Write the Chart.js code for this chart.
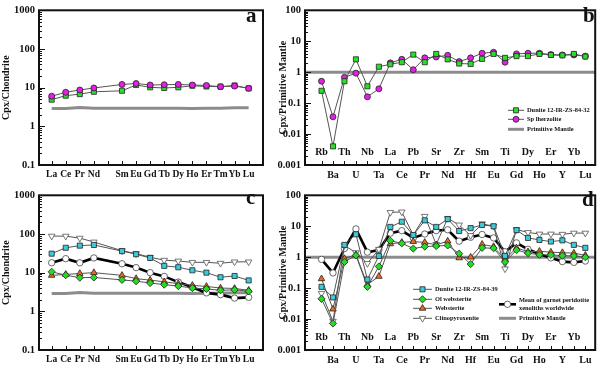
<!DOCTYPE html>
<html>
<head>
<meta charset="utf-8">
<script src="https://cdn.jsdelivr.net/npm/chart.js@4.4.0/dist/chart.umd.min.js"></script>
<style>
  html, body { margin: 0; padding: 0; background: #fff; }
  #fig { position: relative; width: 600px; height: 384px; overflow: hidden; }
  #fig canvas { position: absolute; }
  .letter { position: absolute; font-family: 'Liberation Serif', 'Times New Roman', serif; font-weight: bold; font-size: 21px; line-height: 21px; color: #111; }
</style>
</head>
<body>
<div id="fig">
  <canvas id="chartA" width="270" height="190" style="left:0;top:0;width:270px;height:190px"></canvas>
  <canvas id="chartB" width="328" height="190" style="left:272px;top:0;width:328px;height:190px"></canvas>
  <canvas id="chartC" width="270" height="190" style="left:0;top:185px;width:270px;height:190px"></canvas>
  <canvas id="chartD" width="328" height="190" style="left:272px;top:185px;width:328px;height:190px"></canvas>
  <div class="letter" style="left:246px;top:5px">a</div>
  <div class="letter" style="left:583px;top:5px">b</div>
  <div class="letter" style="left:246px;top:187px">c</div>
  <div class="letter" style="left:582px;top:189px">d</div>
</div>
<script>
// Categories
const reeLabels = ['La', 'Ce', 'Pr', 'Nd', 'Pm', 'Sm', 'Eu', 'Gd', 'Tb', 'Dy', 'Ho', 'Er', 'Tm', 'Yb', 'Lu'];
const spiderLabels = ['Rb', 'Ba', 'Th', 'U', 'Nb', 'Ta', 'La', 'Ce', 'Pb', 'Pr', 'Sr', 'Nd',
  'Zr', 'Hf', 'Sm', 'Eu', 'Ti', 'Gd', 'Dy', 'Ho', 'Er', 'Y', 'Yb', 'Lu'];
const reeYTicks = [0.1, 1, 10, 100, 1000];
const spiderYTicks = [0.001, 0.01, 0.1, 1, 10, 100];

// Panel a: chondrite normalised REE (Pm not analysed)
const aDunite = [4.9, 6.2, 6.8, 7.8, null, 8.3, 11.7, 10.2, 9.8, 10.2, 11.2, 10.7, 10.6, 11.4, 9.6];
const aLherzolite = [6.0, 7.6, 8.7, 9.8, null, 12.1, 12.8, 11.7, 11.9, 12.1, 11.7, 11.4, 10.6, 11.0, 9.6];
const pmChondrite = [2.9, 2.9, 3.05, 2.95, null, 2.95, 2.95, 2.95, 2.95, 2.95, 2.9, 2.95, 2.95, 3.0, 3.0];

// Panel b: primitive mantle normalised spider diagram
const bDunite = [0.25, 0.004, 0.51, 2.6, 0.35, 1.5, 1.8, 2.1, 3.7, 2.1, 3.9, 2.6,
  1.9, 1.85, 2.7, 3.9, 2.9, 3.3, 3.3, 3.9, 3.6, 3.5, 3.9, 3.2];
const bLherzolite = [0.51, 0.036, 0.68, 0.93, 0.16, 0.29, 2.0, 2.6, 1.2, 2.9, 3.1, 3.5,
  2.2, 2.9, 4.1, 4.4, 2.1, 3.9, 4.1, 4.1, 3.7, 3.6, 3.6, 3.3];
const pmLevel = 1;

// Panel c: chondrite normalised REE
const cDunite = [31, 44, 50, 52, null, 36, 30, 24, 15, 13.8, 11.5, 10, 7.6, 8.2, 6.3];
const cOlWebsterite = [10.5, 8.6, 7.4, 7.5, null, 6.5, 6.0, 5.4, 4.9, 4.5, 4.0, 3.8, 3.5, 3.6, 3.3];
const cWebsterite = [8.5, 9.0, 9.5, 10, null, 8.5, 7.0, 6.4, 5.8, 5.2, 4.7, 4.4, 4.0, 3.9, 3.5];
const cClinopyroxenite = [88, 88, 78, 62, null, 37, 31, 25, 21, 20, 18.5, 18.5, 17.5, 19, 19];
const cGarnetMean = [18, 23, 18, 24, null, 17, 13.5, 10, 8, 5.7, 4.2, 3.0, 2.7, 2.2, 2.3];

// Panel d: primitive mantle normalised spider diagram
const dDunite = [0.11, 0.05, 2.5, 5.5, 0.19, 1.1, 9.5, 14, 5.2, 15.5, 9.5, 17,
  7, 8.7, 11, 10, 1.1, 7.5, 4.2, 3.6, 3.2, 3.5, 2.5, 2.0];
const dOlWebsterite = [0.045, 0.0072, 0.7, 1.15, 0.11, 0.5, 3.4, 2.8, 1.9, 2.2, 2.3, 2.4,
  1.3, 0.6, 2.0, 1.95, 0.7, 1.7, 1.35, 1.2, 1.18, 1.12, 1.1, 1.0];
const dWebsterite = [0.2, 0.021, 0.9, 1.2, 0.13, 0.24, 2.7, 3.0, 3.2, 3.0, 2.5, 3.3,
  0.95, 1.0, 2.6, 2.2, 0.85, 2.0, 1.5, 1.55, 1.45, 1.4, 1.35, 1.15];
const dClinopyroxenite = [0.068, 0.0085, 2.4, 1.4, 0.63, 1.8, 28, 29, 5.2, 21, 2.6, 18,
  11, 5, 12, 10, 0.42, 7.8, 6.3, 5.6, 5.6, 5.5, 6, 6];
const dGarnetMean = [0.85, 0.31, 1.9, 8.2, 1.45, 1.7, 6, 7.2, 4.2, 5.6, 7.2, 7.7,
  3.3, 4.4, 5.4, 4.2, 1.5, 2.9, 1.8, 1.25, 0.95, 0.72, 0.68, 0.75];

const FONT = "'Liberation Serif', 'Times New Roman', serif";
Chart.defaults.font.family = FONT;
Chart.defaults.font.weight = 'bold';
Chart.defaults.color = '#111';

const lineGray = '#555';
const styles = {
  green: { pointStyle: 'rect', pointRadius: 3.6, pointBackgroundColor: '#27e027' },
  magenta: { pointStyle: 'circle', pointRadius: 3, pointBackgroundColor: '#e31fe3' },
  cyan: { pointStyle: 'rect', pointRadius: 3.6, pointBackgroundColor: '#3ccbd8' },
  olive: { pointStyle: 'rectRot', pointRadius: 3.6, pointBackgroundColor: '#22dd22' },
  orange: { pointStyle: 'triangle', pointRadius: 3.8, pointBackgroundColor: '#f26a1b' },
  clino: { pointStyle: 'triangle', pointRotation: 180, pointRadius: 3.8, pointBackgroundColor: '#fff', pointBorderColor: '#555' },
  garnet: { pointStyle: 'circle', pointRadius: 3.2, pointBackgroundColor: '#fff', pointBorderColor: '#444', borderColor: '#000', borderWidth: 2.6 }
};

function series(label, values, style) {
  return Object.assign({
    label: label,
    data: values.map((v, i) => ({ x: i, y: v })),
    borderColor: lineGray,
    borderWidth: 1,
    pointBorderColor: '#222',
    pointBorderWidth: 0.8,
    tension: 0,
    spanGaps: true
  }, style);
}

function pmSeries(values) {
  return {
    label: 'Primitive Mantle',
    data: values.map((v, i) => ({ x: i, y: v })),
    borderColor: '#8c8c8c',
    borderWidth: 3,
    pointRadius: 0,
    spanGaps: true
  };
}

// frame, inward ticks, optional reference line / upper labels / legend
function panelPlugin(cfg) {
  return {
    id: 'panelDecor',
    beforeDatasetsDraw(chart) {
      if (cfg.refValue == null) return;
      const { ctx, chartArea: a, scales: { y } } = chart;
      const py = y.getPixelForValue(cfg.refValue);
      ctx.save();
      ctx.strokeStyle = '#8c8c8c';
      ctx.lineWidth = 3;
      ctx.beginPath();
      ctx.moveTo(a.left, py);
      ctx.lineTo(a.right, py);
      ctx.stroke();
      ctx.restore();
    },
    afterDraw(chart) {
      const { ctx, chartArea: a, scales: { x, y } } = chart;
      ctx.save();
      ctx.strokeStyle = '#111';
      ctx.lineWidth = 1;
      ctx.beginPath();
      x.ticks.forEach(t => {
        const px = Math.round(x.getPixelForValue(t.value)) + 0.5;
        ctx.moveTo(px, a.bottom);
        ctx.lineTo(px, a.bottom - 4);
      });
      const lo = Math.log10(y.min), hi = Math.log10(y.max);
      for (let d = lo; d <= hi; d++) {
        for (let k = 1; k < 10; k++) {
          const v = Math.pow(10, d) * k;
          if (v > y.max * 1.0001) break;
          const py = Math.round(y.getPixelForValue(v)) + 0.5;
          ctx.moveTo(a.left, py);
          ctx.lineTo(a.left + (k === 1 ? 6 : 3), py);
        }
      }
      ctx.stroke();
      ctx.lineWidth = 2;
      ctx.strokeRect(a.left, a.top, a.right - a.left, a.bottom - a.top);

      if (cfg.upper) {
        ctx.fillStyle = '#111';
        ctx.font = 'bold 10px ' + FONT;
        ctx.textAlign = 'center';
        ctx.textBaseline = 'middle';
        cfg.upper.forEach((lab, i) => {
          if (i % 2 === 0) ctx.fillText(lab, x.getPixelForValue(i), a.bottom - 13);
        });
      }

      (cfg.legend || []).forEach(it => {
        const x0 = a.left + it.dx, x1 = x0 + it.len, py = a.top + it.dy;
        const ds = it.ds != null ? chart.data.datasets[it.ds] : null;
        ctx.strokeStyle = ds ? ds.borderColor : it.color;
        ctx.lineWidth = ds ? ds.borderWidth : it.width;
        ctx.beginPath();
        ctx.moveTo(x0, py);
        ctx.lineTo(x1, py);
        ctx.stroke();
        if (ds && ds.pointRadius) {
          ctx.fillStyle = ds.pointBackgroundColor;
          ctx.strokeStyle = ds.pointBorderColor;
          ctx.lineWidth = ds.pointBorderWidth || 0.8;
          Chart.helpers.drawPoint(ctx, {
            pointStyle: ds.pointStyle, radius: ds.pointRadius,
            rotation: ds.pointRotation || 0, borderWidth: ctx.lineWidth
          }, (x0 + x1) / 2, py);
        }
        ctx.fillStyle = '#111';
        ctx.font = 'bold 6.4px ' + FONT;
        ctx.textAlign = 'left';
        ctx.textBaseline = 'middle';
        const lines = [].concat(it.text);
        lines.forEach((t, k) => {
          ctx.fillText(t, x1 + 3, py + (k - (lines.length - 1) / 2) * 8.5);
        });
      });
      ctx.restore();
    }
  };
}

function makeChart(id, o) {
  return new Chart(document.getElementById(id), {
    type: 'line',
    data: { datasets: o.datasets },
    options: {
      responsive: false,
      animation: false,
      devicePixelRatio: 1,
      layout: { padding: { left: 0, right: o.rightPad, top: 5, bottom: 0 } },
      plugins: { legend: { display: false }, tooltip: { enabled: false } },
      scales: {
        x: {
          type: 'linear',
          min: o.xMin,
          max: o.xMax,
          grid: { display: false, drawTicks: false },
          border: { display: false },
          afterBuildTicks: s => { s.ticks = o.labels.map((_, i) => ({ value: i })); },
          ticks: {
            autoSkip: false, maxRotation: 0, padding: 4,
            font: { size: o.xFont, weight: 'bold' },
            callback: v => o.tickText(v)
          },
          afterFit: s => { s.height = 25; }
        },
        y: {
          type: 'logarithmic',
          min: o.yTicks[0],
          max: o.yTicks[o.yTicks.length - 1],
          grid: { display: false, drawTicks: false },
          border: { display: false },
          afterBuildTicks: s => { s.ticks = o.yTicks.map(v => ({ value: v, major: true })); },
          ticks: { autoSkip: false, padding: 4, font: { size: 10.5, weight: 'bold' }, callback: v => String(v) },
          title: {
            display: true, text: o.yTitle,
            padding: { top: o.titlePad, bottom: 0 },
            font: { size: 10, weight: 'bold' }
          },
          afterFit: s => { s.width = o.yWidth; }
        }
      }
    },
    plugins: [panelPlugin(o.decor)]
  });
}

const reeTick = v => (reeLabels[v] === 'Pm' ? '' : reeLabels[v]);
const spiderTick = v => (v % 2 === 1 ? spiderLabels[v] : '');

makeChart('chartA', {
  labels: reeLabels, tickText: reeTick, xMin: -0.9, xMax: 15.02, xFont: 9.5,
  yTicks: reeYTicks, yTitle: 'Cpx/Chondrite', yWidth: 39, titlePad: 0, rightPad: 7,
  datasets: [
    series('Sp lherzolite', aLherzolite, styles.magenta),
    series('Dunite 12-IR-ZS-84-32', aDunite, styles.green),
    pmSeries(pmChondrite)
  ],
  decor: {}
});

makeChart('chartB', {
  labels: spiderLabels, tickText: spiderTick, xMin: -1.44, xMax: 23.86, xFont: 10,
  yTicks: spiderYTicks, yTitle: 'Cpx/Primitive Mantle', yWidth: 33, titlePad: 5, rightPad: 2,
  datasets: [
    series('Dunite 12-IR-ZS-84-32', bDunite, styles.green),
    series('Sp lherzolite', bLherzolite, styles.magenta)
  ],
  decor: {
    refValue: pmLevel,
    upper: spiderLabels,
    legend: [
      { ds: 0, text: 'Dunite 12-IR-ZS-84-32', dx: 203, dy: 100, len: 16 },
      { ds: 1, text: 'Sp lherzolite', dx: 203, dy: 109, len: 16 },
      { color: '#8c8c8c', width: 3, text: 'Primitive Mantle', dx: 203, dy: 119, len: 16 }
    ]
  }
});

makeChart('chartC', {
  labels: reeLabels, tickText: reeTick, xMin: -0.9, xMax: 15.02, xFont: 9.5,
  yTicks: reeYTicks, yTitle: 'Cpx/Chondrite', yWidth: 39, titlePad: 0, rightPad: 7,
  datasets: [
    series('Dunite 12-IR-ZS-84-39', cDunite, styles.cyan),
    series('Ol websterite', cOlWebsterite, styles.olive),
    series('Websterite', cWebsterite, styles.orange),
    series('Clinopyroxenite', cClinopyroxenite, styles.clino),
    series('Mean of garnet peridotite xenoliths worldwide', cGarnetMean, styles.garnet),
    pmSeries(pmChondrite)
  ],
  decor: {}
});

makeChart('chartD', {
  labels: spiderLabels, tickText: spiderTick, xMin: -1.44, xMax: 23.86, xFont: 10,
  yTicks: spiderYTicks, yTitle: 'Cpx/Primitive Mantle', yWidth: 33, titlePad: 5, rightPad: 2,
  datasets: [
    series('Dunite 12-IR-ZS-84-39', dDunite, styles.cyan),
    series('Ol websterite', dOlWebsterite, styles.olive),
    series('Websterite', dWebsterite, styles.orange),
    series('Clinopyroxenite', dClinopyroxenite, styles.clino),
    series('Mean of garnet peridotite xenoliths worldwide', dGarnetMean, styles.garnet)
  ],
  decor: {
    refValue: pmLevel,
    upper: spiderLabels,
    legend: [
      { ds: 0, text: 'Dunite 12-IR-ZS-84-39', dx: 108, dy: 94, len: 19 },
      { ds: 1, text: 'Ol websterite', dx: 108, dy: 104, len: 19 },
      { ds: 2, text: 'Websterite', dx: 108, dy: 113, len: 19 },
      { ds: 3, text: 'Clinopyroxenite', dx: 108, dy: 123, len: 19 },
      { ds: 4, text: ['Mean of garnet peridotite', 'xenoliths worldwide'], dx: 194, dy: 109, len: 17 },
      { color: '#8c8c8c', width: 3, text: 'Primitive Mantle', dx: 194, dy: 123, len: 17 }
    ]
  }
});
</script>
</body>
</html>
